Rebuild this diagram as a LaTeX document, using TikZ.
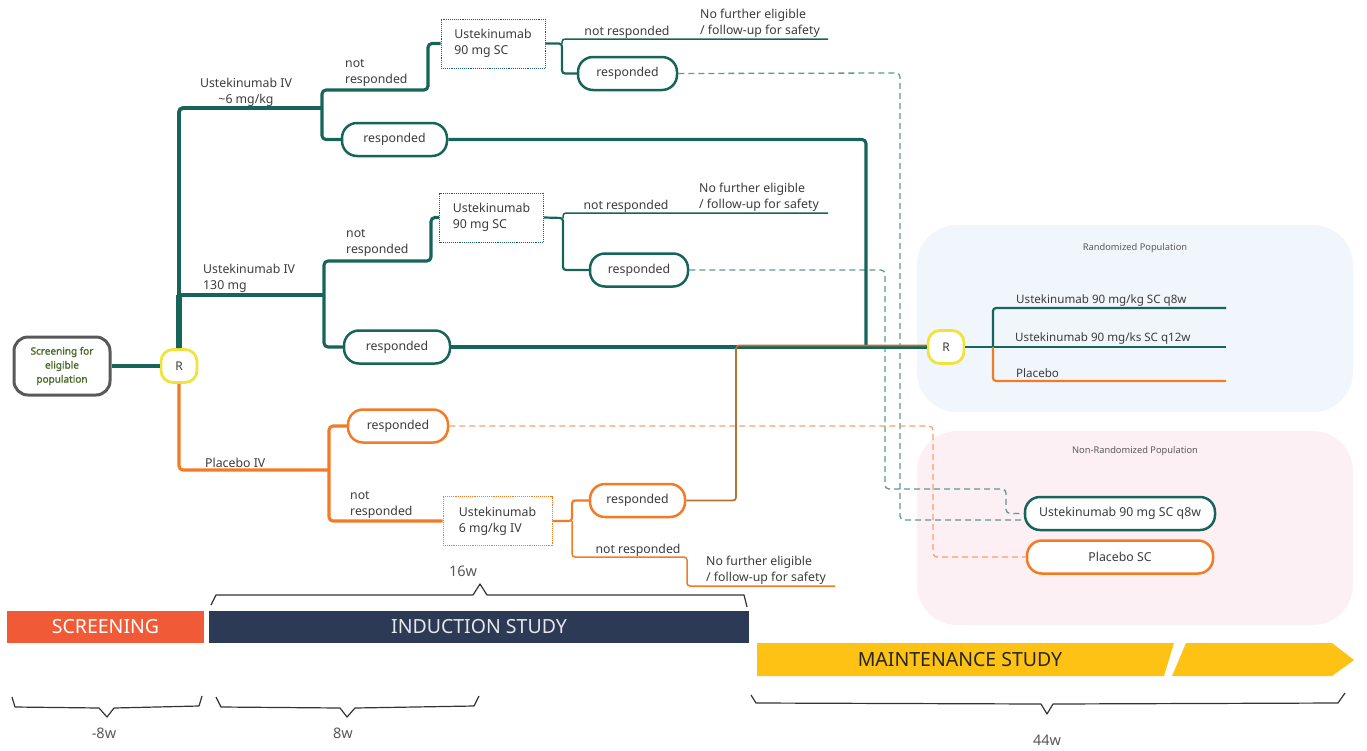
\documentclass[tikz,border=0pt]{standalone}
\usepackage{fontspec}
\setmainfont{Noto Sans}
\newfontfamily\scrfont{Noto Sans}[FakeBold=1.6]
\usetikzlibrary{calc}
\definecolor{teal1}{HTML}{17645A}
\definecolor{tealdash}{HTML}{5E9890}
\definecolor{orng}{HTML}{F57A26}
\definecolor{orngdash}{HTML}{F9A06A}
\definecolor{ylw}{HTML}{F2E23C}
\definecolor{txt}{HTML}{3C3C3C}
\definecolor{bluebg}{HTML}{F1F5FC}
\definecolor{pinkbg}{HTML}{FDF0F4}
\definecolor{scr}{HTML}{F15A36}
\definecolor{navy}{HTML}{2C3A55}
\definecolor{gold}{HTML}{FDC213}
\definecolor{olive}{HTML}{4B6B2B}
\definecolor{brace}{HTML}{333333}

\begin{document}
\begin{tikzpicture}[x=1pt,y=-1pt,
  every node/.style={text=txt, font=\fontsize{12.3}{16}\selectfont, inner sep=0pt},
  pill/.style={draw=#1, line width=2.5pt, rounded corners=15pt, minimum height=33pt, fill=white},
  drugbox/.style={draw=#1, densely dotted, line width=0.9pt, minimum width=104pt, minimum height=49pt, align=left, fill=white},
  rnode/.style={draw=ylw, line width=2.8pt, rounded corners=12pt, minimum width=36pt, minimum height=33pt, fill=white, font=\fontsize{12}{14}\selectfont},
  lbl/.style={align=left, anchor=west},
  armlbl/.style={anchor=west, font=\fontsize{11.6}{14}\selectfont},
  tk/.style={draw=teal1, line width=3.1pt, rounded corners=4pt},
  tkmid/.style={draw=teal1, line width=2.2pt, rounded corners=3pt},
  tkthin/.style={draw=teal1, line width=1.5pt, rounded corners=3pt},
  orl/.style={draw=orng, line width=3.1pt, rounded corners=4pt},
  ormid/.style={draw=orng, line width=2.2pt, rounded corners=3pt},
  orthin/.style={draw=orng, line width=1.5pt, rounded corners=3pt},
  tdash/.style={draw=tealdash, line width=1.3pt, dash pattern=on 6pt off 4pt, rounded corners=4pt},
  odash/.style={draw=orngdash, line width=1.3pt, dash pattern=on 6pt off 4pt, rounded corners=4pt},
  bar/.style={minimum height=32pt, text=white, font=\fontsize{19.5}{22}\selectfont},
  bracket/.style={draw=brace, line width=1.2pt, line join=round},
  wk/.style={text=txt!85!white, font=\fontsize{14.5}{16}\selectfont},
  poptitle/.style={font=\fontsize{9.3}{11}\selectfont, text=txt!85!white}
]
\useasboundingbox (0,0) rectangle (1367,750);

% population panels
\node[fill=bluebg, rounded corners=40pt, minimum width=436pt, minimum height=187pt] (randbg) at (1135,318.5) {};
\node[fill=pinkbg, rounded corners=40pt, minimum width=436pt, minimum height=194pt] (nrandbg) at (1135,528) {};
\node[poptitle] (randtitle) at (1135,248) {Randomized Population};
\node[poptitle] (nrandtitle) at (1135,451) {Non-Randomized Population};

% junction points
\coordinate (j1) at (322,108);
\coordinate (k1) at (428,90);
\coordinate (f1) at (562,43.5);
\coordinate (e1) at (828,39);
\coordinate (m1) at (866,347);
\coordinate (j2) at (324,295);
\coordinate (k2) at (431,261);
\coordinate (f2) at (563,218);
\coordinate (e2) at (828,213);
\coordinate (j3) at (329,470);
\coordinate (f3) at (572,521);
\coordinate (k3) at (687,557);
\coordinate (e3) at (835,586);
\coordinate (m2) at (736,345.5);
\coordinate (f4) at (993,347);
\coordinate (e4) at (1226,308);
\coordinate (e5) at (1226,347);
\coordinate (e6) at (1226,381);
\coordinate (d1) at (900,73);
\coordinate (d2) at (885,270);
\coordinate (d2b) at (1006,489);
\coordinate (d3) at (933,426);

% non-randomized arms
\node[pill=teal1, minimum width=190pt] (nr1) at (1120,513.5) {Ustekinumab 90 mg SC q8w};
\node[pill=orng, minimum width=186pt] (nr2) at (1120,557) {Placebo SC};

% main nodes
\node[draw=black!65, line width=3pt, rounded corners=14pt, minimum width=96pt, minimum height=58pt, align=center, text=olive, font=\scrfont\fontsize{10}{14}\selectfont] (screen) at (62,366) {Screening for\\eligible\\population};
\node[rnode] (R1) at (179,366) {R};
\node[rnode] (R2) at (946,347) {R};

\node[drugbox=teal1] (box1) at (493,43.5) {Ustekinumab\\90 mg SC};
\node[pill=teal1, minimum width=105pt] (resp1) at (394.5,139.5) {responded};
\node[pill=teal1, minimum width=99pt] (resp1b) at (627.5,73.5) {responded};

\node[drugbox=teal1] (box2) at (491.5,217.5) {Ustekinumab\\90 mg SC};
\node[pill=teal1, minimum width=106pt] (resp2) at (397,347) {responded};
\node[pill=teal1, minimum width=98pt] (resp2b) at (639,270) {responded};

\node[drugbox=orng, minimum width=109pt] (box3) at (497.5,521) {Ustekinumab\\6 mg/kg IV};
\node[pill=orng, minimum width=100pt] (resp3) at (398,426) {responded};
\node[pill=orng, minimum width=95pt] (resp3b) at (637.5,500.5) {responded};

% branch labels
\node[align=center] (lab1) at (246,92) {Ustekinumab IV\\\textasciitilde6 mg/kg};
\node[lbl] (nr1lab) at (345,73) {not\\responded};
\node[anchor=base] (nrt1) at (627,35) {not responded};
\node[lbl] (nf1) at (700,23) {No further eligible\\/ follow-up for safety};

\node[lbl] (lab2) at (203,278) {Ustekinumab IV\\130 mg};
\node[lbl] (nr2lab) at (346,243) {not\\responded};
\node[anchor=base] (nrt2) at (626,209) {not responded};
\node[lbl] (nf2) at (699,197) {No further eligible\\/ follow-up for safety};

\node[lbl] (lab3) at (205,463) {Placebo IV};
\node[lbl] (nr3lab) at (350,505) {not\\responded};
\node[anchor=base] (nrt3) at (638,553) {not responded};
\node[lbl] (nf3) at (706,570) {No further eligible\\/ follow-up for safety};

\node[armlbl] (arm1) at (1016,300) {Ustekinumab 90 mg/kg SC q8w};
\node[armlbl] (arm2) at (1015,338) {Ustekinumab 90 mg/ks SC q12w};
\node[armlbl] (arm3) at (1016,373) {Placebo};

% dashed links
\draw[tdash] (resp1b.east) -- (d1) |- ($(nr1.west)+(0,6.5)$);
\draw[tdash] (resp2b.east) -| (d2 |- d2b) -- (d2b) |- (nr1.west);
\draw[odash] (resp3.east) -- (d3) |- (nr2.west);

% screening to randomisation
\draw[tk] (screen.east) -- (R1.west);

% ustekinumab ~6 mg/kg arm
\draw[tk, line width=3.8pt] (R1.north) -- (R1.north |- j1) -- (j1);
\draw[tk] (j1) |- (k1) |- (box1.west);
\draw[tk] (j1) |- (resp1.west);
\draw[tkmid] (box1.east) -- (f1) |- (resp1b.west);
\draw[tkthin] (f1) |- (e1);
\draw[tk] (resp1.east) -| (m1);

% ustekinumab 130 mg arm
\draw[tk, line width=5.5pt, rounded corners=0pt] (R1.north) -- (R1.north |- j2);
\draw[tk] (R1.north |- j2) -- (j2);
\draw[tk] (j2) |- (k2) |- (box2.west);
\draw[tk] (j2) |- (resp2.west);
\draw[tkmid] (box2.east) -- (f2) |- (resp2b.west);
\draw[tkthin] (f2) |- (e2);
\draw[tk] (resp2.east) -- (R2.west);

% placebo arm
\draw[orl] (R1.south) |- (j3);
\draw[orl] (j3) |- (resp3.west);
\draw[orl] (j3) |- (box3.west);
\draw[ormid] (box3.east) -- (f3) |- (resp3b.west);
\draw[orthin] (f3) |- (k3) |- (e3);
\draw[draw=orng!70!teal1, line width=1.7pt, rounded corners=3pt] (resp3b.east) -| (m2) -- (m2 -| R2.west);

% maintenance randomisation
\draw[tkmid] (R2.east) -- (e5);
\draw[tkmid] (f4) |- (e4);
\draw[ormid] (f4) |- (e6);

% study timeline
\node[bar, fill=scr, minimum width=197pt] (scrbar) at (105.5,627) {SCREENING};
\node[bar, fill=navy, minimum width=540pt, text=white!88!navy] (indbar) at (479,627) {INDUCTION STUDY};
\fill[gold] (757,643) -- (1174,643) -- (1164,676) -- (757,676) -- cycle;
\fill[gold] (1186,643) -- (1332,643) -- (1354,660) -- (1332,676) -- (1172,676) -- cycle;
\node[text=black!85, font=\fontsize{19.5}{22}\selectfont] (mainlab) at (960,660) {MAINTENANCE STUDY};

% week brackets
\draw[bracket] (211,605) -- (216,595) -- (473,595) -- (480,584) -- (487,595) -- (744,595) -- (747,607);
\node[wk] (w16) at (463,571) {16w};
\draw[bracket] (12,697) -- (15,707) -- (99,708) -- (107,717) -- (114,708) -- (199,706) -- (202,696);
\node[wk] (w8n) at (104,733) {-8w};
\draw[bracket] (216,697) -- (221,707) -- (340,708) -- (347,717) -- (355,708) -- (474,706) -- (479,696);
\node[wk] (w8) at (343,733) {8w};
\draw[bracket] (751,695) -- (756,703) -- (1041,704) -- (1047,714) -- (1053,704) -- (1338,703) -- (1345,693);
\node[wk] (w44) at (1047,740) {44w};
\end{tikzpicture}
\end{document}
